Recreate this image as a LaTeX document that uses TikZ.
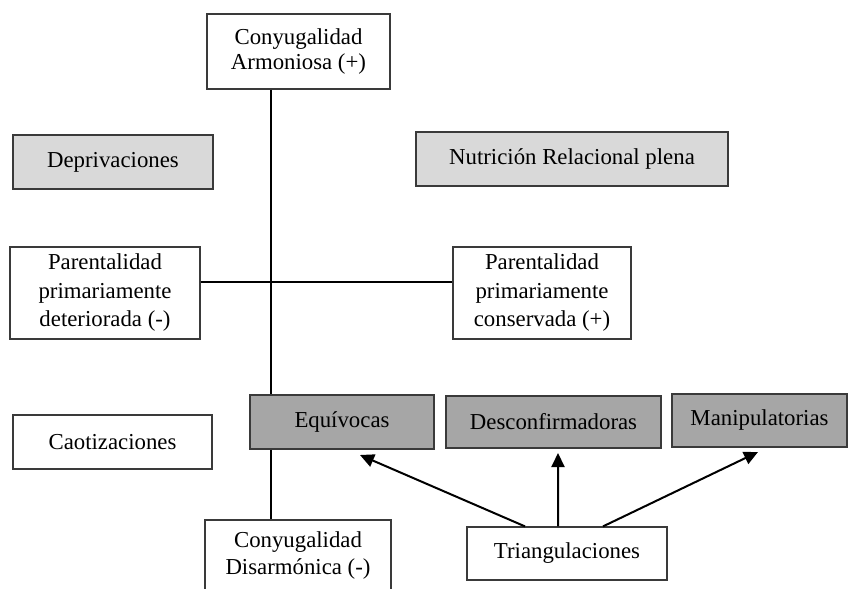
\documentclass[tikz,border=0pt]{standalone}
\usepackage{fontspec}
\setmainfont{Liberation Serif}
\usetikzlibrary{arrows.meta}
\definecolor{lightfill}{HTML}{D9D9D9}
\definecolor{darkfill}{HTML}{A6A6A6}
\definecolor{edgegray}{HTML}{3A3A3A}
\begin{document}
\begin{tikzpicture}[x=1bp,y=-1bp,
  box/.style={draw=edgegray,line width=1.2bp,rectangle,inner sep=0pt,align=center,
    font=\fontsize{22.8bp}{25.5bp}\selectfont},
  tallbox/.style={box,font=\fontsize{22.8bp}{28.5bp}\selectfont},
  lightbox/.style={box,fill=lightfill},
  darkbox/.style={box,fill=darkfill},
  conn/.style={line width=2bp,black},
  arr/.style={line width=2bp,black,-{Triangle[length=14bp,width=13bp]}}]
\clip (0,0) rectangle (848,589);
\fill[white] (0,0) rectangle (848,589);

\node[box,minimum width=183bp,minimum height=75bp] (conA) at (298.5,51.5) {Conyugalidad\\Armoniosa (+)};
\node[lightbox,minimum width=200bp,minimum height=54bp] (depr) at (113,162) {Deprivaciones};
\node[lightbox,minimum width=312bp,minimum height=54bp] (nutr) at (572,159) {Nutrición Relacional plena};
\node[tallbox,minimum width=190bp,minimum height=92bp] (parD) at (105,293) {Parentalidad\\primariamente\\deteriorada (-)};
\node[tallbox,minimum width=178bp,minimum height=92bp] (parC) at (542,293) {Parentalidad\\primariamente\\conservada (+)};
\node[darkbox,minimum width=184bp,minimum height=54bp] (equi) at (342,422) {Equívocas};
\node[darkbox,minimum width=215bp,minimum height=52bp] (desc) at (553.5,422) {Desconfirmadoras};
\node[darkbox,minimum width=175bp,minimum height=53bp] (mani) at (759.5,420.5) {Manipulatorias};
\node[box,minimum width=199bp,minimum height=54bp] (caot) at (112.5,442) {Caotizaciones};
\node[box,font=\fontsize{22.8bp}{26.5bp}\selectfont,minimum width=186bp,minimum height=71bp] (conD) at (298,555.5) {Conyugalidad\\Disarmónica (-)};
\node[box,minimum width=200bp,minimum height=53bp] (tri) at (567,553.5) {Triangulaciones};

\coordinate (vx) at (271,0);
\coordinate (hy) at (0,282);
\draw[conn] (conA.south -| vx) -- (equi.north -| vx);
\draw[conn] (equi.south -| vx) -- (conD.north -| vx);
\draw[conn] (parD.east |- hy) -- (parC.west |- hy);

\coordinate (tipE) at (360,455);
\coordinate (tipD) at (558,453);
\coordinate (tipM) at (758,452);
\draw[arr] ([xshift=-42bp]tri.north) -- (tipE);
\draw[arr] ([xshift=-9bp]tri.north) -- (tipD);
\draw[arr] ([xshift=36bp]tri.north) -- (tipM);
\end{tikzpicture}
\end{document}
